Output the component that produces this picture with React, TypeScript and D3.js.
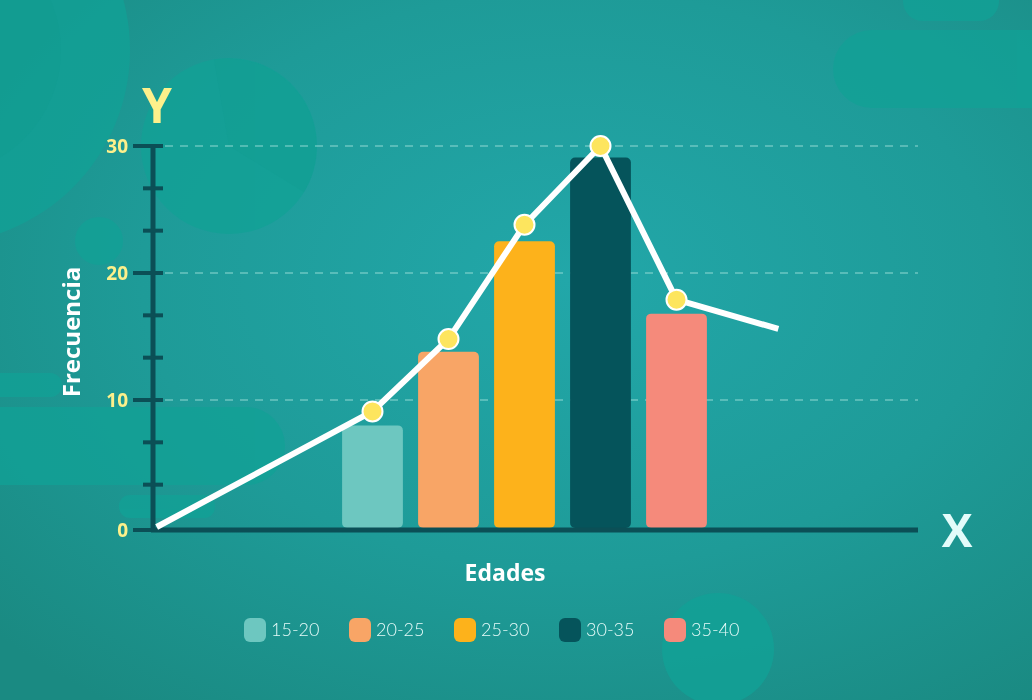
import React from 'react';
import * as d3 from 'd3';

// age groups and their frequencies (bars)
const groups = ['15-20', '20-25', '25-30', '30-35', '35-40'];
const freq = [8.0, 13.8, 22.5, 29.1, 16.8];
const colors = ['#6dc7c0', '#f8a566', '#fdb21b', '#05545b', '#f58a7b'];

// frequency polygon (age, value); first and last are the open ends
const lineAges = [3.3, 17.5, 22.5, 27.5, 32.5, 37.5, 44.2];
const lineVals = [0, 9.1, 14.8, 23.8, 30, 17.9, 15.6];

const yTicks = [0, 10, 20, 30];

const W = 1032;
const H = 700;
const axisColor = '#0b4f56';
const yellow = '#fdf08b';
const boldFont = "'Open Sans', Lato, sans-serif";

function App() {
  const left = 153;
  const right = 918;

  const y = d3.scaleLinear().domain([0, 30]).range([527, 146]);
  const xBand = d3.scaleBand<string>().domain(groups).range([334.5, 714.5]).paddingInner(0.2).paddingOuter(0.1);
  const xAge = d3.scaleLinear().domain([15, 40]).range([334.5, 714.5]);

  const pts: [number, number][] = lineAges.map((a, i) => [xAge(a), y(lineVals[i])]);
  const line = d3.line();

  const minor = d3.range(0, 30.01, 10 / 3).filter((v) => !yTicks.some((t) => Math.abs(t - v) < 0.01));
  const base = y(0) + 3;

  // legend layout
  const legendX = d3.scalePoint<string>().domain(groups).range([244, 664]);

  return (
    <svg width={W} height={H} style={{ position: 'fixed', left: 0, top: 0 }} fontFamily="Lato, 'Open Sans', sans-serif">
      <defs>
        <radialGradient id="bg" cx="0.55" cy="0.4" r="0.75">
          <stop offset="0" stopColor="#22a7a9" />
          <stop offset="0.55" stopColor="#1e9b98" />
          <stop offset="1" stopColor="#1a8a82" />
        </radialGradient>
      </defs>
      <rect width={W} height={H} fill="url(#bg)" />

      {/* decorative shapes */}
      <g fill="#12a196" opacity={0.8}>
        <circle cx={-64} cy={50} r={194} />
        <circle cx={229} cy={146} r={88} />
        <circle cx={99} cy={241} r={24} />
        <rect x={-30} y={373} width={92} height={24} rx={12} />
        <rect x={-40} y={407} width={325} height={78} rx={39} />
        <rect x={119} y={495} width={96} height={23} rx={11} />
        <rect x={903} y={-20} width={96} height={41} rx={20} />
        <rect x={833} y={30} width={260} height={78} rx={39} />
        <circle cx={718} cy={649} r={56} />
      </g>
      <circle cx={-64} cy={50} r={125} fill="#109a8f" opacity={0.35} />
      <path d="M229,146 L214,60 A88,88 0 0 1 304,192 Z" fill="#0f9a8f" opacity={0.25} />

      {/* gridlines */}
      {yTicks.filter((t) => t > 0).map((t) => (
        <line key={'g' + t} x1={165} x2={right} y1={y(t)} y2={y(t)} stroke="#9fe0da" strokeOpacity={0.6} strokeWidth={1.5} strokeDasharray="8 7" />
      ))}

      {/* bars */}
      {groups.map((g, i) => (
        <rect key={g} x={xBand(g)} y={y(freq[i])} width={xBand.bandwidth()} height={y(0) - y(freq[i]) + 1} rx={5} fill={colors[i]} />
      ))}

      {/* axes */}
      <line x1={left} x2={left} y1={y(30)} y2={base} stroke={axisColor} strokeWidth={5} />
      <line x1={left - 2} x2={right} y1={base} y2={base} stroke={axisColor} strokeWidth={5} />
      {yTicks.map((t) => (
        <g key={'t' + t}>
          <line x1={133} x2={t === 0 ? left : 163} y1={t === 0 ? base : y(t)} y2={t === 0 ? base : y(t)} stroke={axisColor} strokeWidth={4} />
          <text x={128} y={t === 0 ? base : y(t)} dy="0.36em" textAnchor="end" fill={yellow} fontWeight={700} fontSize={19} fontFamily={boldFont}>
            {t}
          </text>
        </g>
      ))}
      {minor.map((v) => (
        <line key={'m' + v} x1={143} x2={163} y1={y(v)} y2={y(v)} stroke={axisColor} strokeWidth={4} />
      ))}

      {/* frequency polygon */}
      <path d={line(pts) || ''} fill="none" stroke="#fff" strokeWidth={6} strokeLinejoin="round" />
      {pts.slice(1, -1).map((p, i) => (
        <circle key={'p' + i} cx={p[0]} cy={p[1]} r={10} fill="#fde55e" stroke="#fff" strokeWidth={2} />
      ))}

      {/* labels */}
      <text x={157} y={123} textAnchor="middle" fill={yellow} fontWeight={700} fontSize={48} fontFamily={boldFont}>Y</text>
      <text x={957} y={547} textAnchor="middle" fill="#e3fcfa" fontWeight={700} fontSize={46} fontFamily={boldFont}>X</text>
      <text transform="translate(80,332) rotate(-90)" textAnchor="middle" fill="#fff" fontWeight={700} fontSize={24} fontFamily={boldFont}>Frecuencia</text>
      <text x={505} y={581} textAnchor="middle" fill="#fff" fontWeight={700} fontSize={23} fontFamily={boldFont}>Edades</text>

      {/* legend */}
      {groups.map((g, i) => (
        <g key={'l' + g} transform={`translate(${legendX(g)},618)`}>
          <rect width={22} height={24} rx={6} fill={colors[i]} />
          <text x={27} y={12} dy="0.36em" fill="#e6fbf9" fontSize={18} fontWeight={300}>{g}</text>
        </g>
      ))}
    </svg>
  );
}

export default App;
